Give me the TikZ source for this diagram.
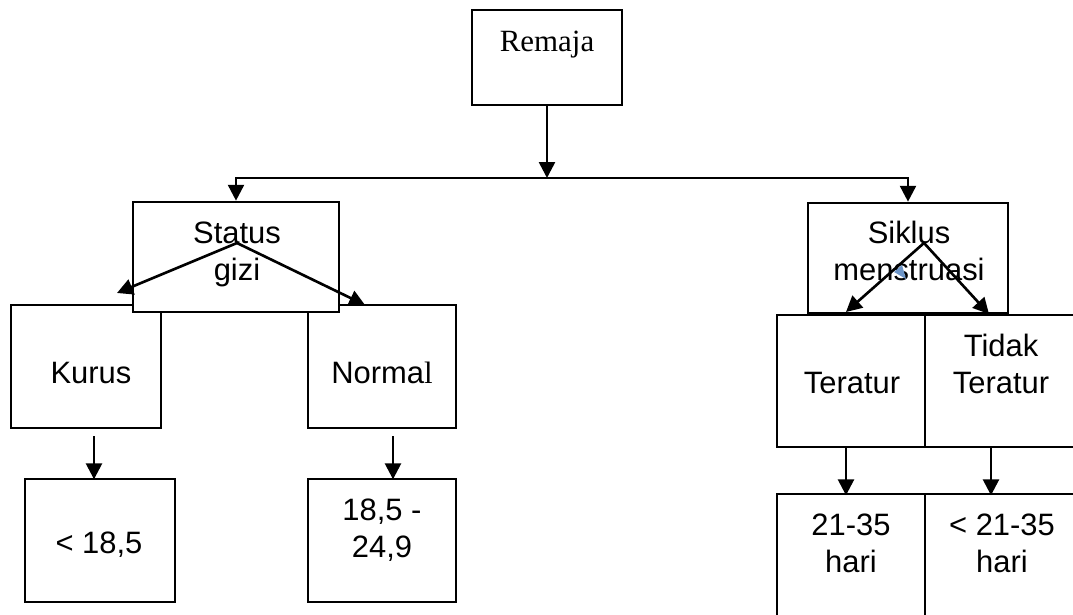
\documentclass[tikz,border=0pt]{standalone}
\usepackage{fontspec}
\setmainfont{Liberation Serif}
\setsansfont{Liberation Sans}
\usetikzlibrary{arrows.meta}

\definecolor{markblue}{RGB}{110,150,200}

\tikzset{
  box/.style={draw, fill=white, line width=1.5pt, inner sep=0pt},
  txt/.style={font=\sffamily\fontsize{17.6}{21}\selectfont, align=center, inner sep=0pt, anchor=base},
  arr/.style={line width=1.5pt, -{Triangle[length=9pt,width=9pt]}}
}

\begin{document}
\begin{tikzpicture}[x=0.02cm, y=-0.02cm]
  \path[use as bounding box, clip] (0,0) rectangle (1073,615);

  \node[box, minimum width=3cm, minimum height=1.9cm] (remaja) at (547,57.5) {};
  \node[txt, font=\rmfamily\fontsize{17.6}{21}\selectfont] (remajatxt) at (547,52) {Remaja};

  \node[box, minimum width=3cm, minimum height=2.46cm] (kurus) at (86,366.5) {};
  \node[box, minimum width=2.96cm, minimum height=2.46cm] (normal) at (382,366.5) {};
  \node[box, minimum width=4.12cm, minimum height=2.2cm] (status) at (236,257) {};
  \node[box, minimum width=3cm, minimum height=2.46cm] (kurang) at (100,540.5) {};
  \node[box, minimum width=2.96cm, minimum height=2.46cm] (ideal) at (382,540.5) {};

  \node[box, minimum width=4cm, minimum height=2.2cm] (siklus) at (908,258) {};
  \node[box, minimum width=2.96cm, minimum height=2.64cm] (teratur) at (851,381) {};
  \node[box, minimum width=3cm, minimum height=2.64cm] (tidak) at (1000,381) {};
  \node[box, minimum width=2.96cm, minimum height=2.92cm] (hari) at (851,567) {};
  \node[box, minimum width=3cm, minimum height=2.92cm] (harilain) at (1000,567) {};

  \node[txt] (statustxt) at (237,280) {Status\\gizi};
  \node[txt] (siklustxt) at (909,280) {Siklus\\menstruasi};
  \node[txt] (kurustxt) at (91,383) {Kurus};
  \node[txt] (normaltxt) at (382,383) {Norma{\rmfamily l}};
  \node[txt] (kurangtxt) at (99,553) {< 18,5};
  \node[txt] (idealtxt) at (382,557) {18,5 -\\24,9};
  \node[txt] (teraturtxt) at (852,393) {Teratur};
  \node[txt] (tidaktxt) at (1001,393) {Tidak\\Teratur};
  \node[txt] (haritxt) at (851,572) {21-35\\hari};
  \node[txt] (harilaintxt) at (1002,572) {< 21-35\\hari};

  \coordinate (split) at (547,178);
  \draw[arr] (remaja) -- (split);
  \draw[arr] (split) -| (status.north);
  \draw[arr] (split) -| (siklus.north);

  \coordinate (sgtop) at (237,243);
  \coordinate (sgleft) at (117,293);
  \coordinate (sgright) at (365,305);
  \draw[arr] (sgtop) -- (sgleft);
  \draw[arr] (sgtop) -- (sgright);

  \coordinate (smtop) at (924,243);
  \coordinate (smleft) at (846,312);
  \coordinate (smright) at (989,314);
  \draw[arr] (smtop) -- (smleft);
  \draw[arr] (smtop) -- (smright);
  \fill[markblue] (894,272) -- (902,265) -- (906,279) -- cycle;

  \draw[arr] ([shift={(8,7)}]kurus.south) -- ++(0,43);
  \draw[arr] ([shift={(11,7)}]normal.south) -- ++(0,43);
  \draw[arr] ([shift={(-5,0)}]teratur.south) -- ++(0,47);
  \draw[arr] ([shift={(-9,0)}]tidak.south) -- ++(0,47);
\end{tikzpicture}
\end{document}
